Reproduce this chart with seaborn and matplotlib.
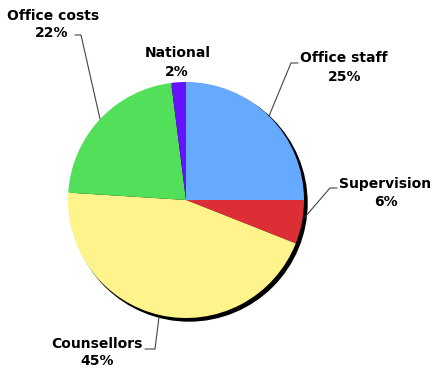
import matplotlib
matplotlib.use("Agg")
import matplotlib.pyplot as plt
import seaborn as sns
from matplotlib.patches import Circle

categories = ["Office staff", "Supervision", "Counsellors", "Office costs", "National"]
values = [25, 6, 45, 22, 2]
colors = ["#66AAFF", "#DD2E36", "#FFF38C", "#52E05A", "#6611FF"]

sns.set_theme(style="white")
plt.rcParams['font.family'] = ['DejaVu Sans']

W, H = 435, 370
fig = plt.figure(figsize=(W / 100, H / 100), dpi=100)
ax = fig.add_axes([0, 0, 1, 1])
ax.set_xlim(0, W)
ax.set_ylim(0, H)
ax.set_aspect('equal')
ax.axis('off')

def Y(y):
    return H - y

cx, cy, r = 186, 200, 118
ax.add_patch(Circle((cx + 3, Y(cy + 3)), r, color="black", zorder=1))
ax.pie(values, colors=colors, startangle=90, counterclock=False,
       center=(cx, Y(cy)), radius=r, frame=True,
       wedgeprops=dict(linewidth=0, zorder=2))
ax.set_xlim(0, W)
ax.set_ylim(0, H)
ax.axis('off')

labels = {
    "Office staff": (344, 58, 345, 77),
    "Supervision": (385, 184, 386, 202),
    "Counsellors": (97, 344, 97, 361),
    "Office costs": (53, 16, 52, 33),
    "National": (178, 53, 177, 72),
}
for cat, v in zip(categories, values):
    x1, y1, x2, y2 = labels[cat]
    ax.text(x1, Y(y1), cat, ha='center', va='center', fontsize=10, fontweight='bold', color='black', zorder=5)
    ax.text(x2, Y(y2), f"{v}%", ha='center', va='center', fontsize=10, fontweight='bold', color='black', zorder=5)

leaders = [
    [(298, 63), (291, 63), (269, 116)],
    [(337, 188), (330, 188), (305, 217)],
    [(145, 349), (155, 349), (159, 317)],
    [(75, 35), (81, 35), (100, 119)],
]
for pts in leaders:
    xs = [p[0] for p in pts]
    ys = [Y(p[1]) for p in pts]
    ax.plot(xs, ys, color="#444444", linewidth=0.8, zorder=4)

fig.savefig("out.png", dpi=100)
